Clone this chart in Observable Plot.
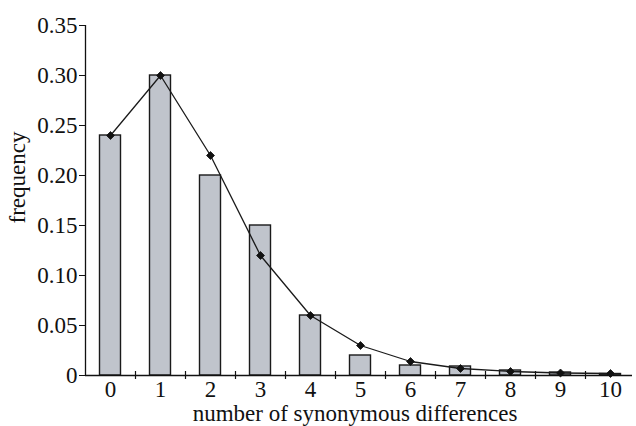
<!DOCTYPE html>
<html>
<head>
<meta charset="utf-8">
<script src="https://cdn.jsdelivr.net/npm/d3@7"></script>
<script src="https://cdn.jsdelivr.net/npm/@observablehq/plot@0.6"></script>
<style>
  html, body { margin: 0; padding: 0; background: #fff; }
  #chart svg { display: block; }
</style>
</head>
<body>
<div id="chart"></div>
<script>
const categories = [0, 1, 2, 3, 4, 5, 6, 7, 8, 9, 10];
const observed = [0.24, 0.30, 0.20, 0.15, 0.06, 0.02, 0.010, 0.009, 0.005, 0.003, 0.0015];
const expected = [0.24, 0.30, 0.22, 0.12, 0.06, 0.03, 0.014, 0.007, 0.004, 0.0025, 0.002];
const yTicks = [0, 0.05, 0.10, 0.15, 0.20, 0.25, 0.30, 0.35];
const xLabel = "number of synonymous differences";
const yLabel = "frequency";

const data = categories.map((k, i) => ({k, observed: observed[i], expected: expected[i]}));
const halfW = 0.21;
const boundaries = categories.map(k => k + 0.5).filter(v => v < 10);

const font = "'Liberation Serif', 'Times New Roman', serif";

const chart = Plot.plot({
  width: 636,
  height: 426,
  marginLeft: 85,
  marginRight: 4,
  marginTop: 25,
  marginBottom: 51,
  style: {fontFamily: font, fontSize: "23px", color: "#111", background: "#fff"},
  x: {domain: [-0.5, 10.44]},
  y: {domain: [0, 0.35]},
  marks: [
    Plot.rectY(data, {
      x1: d => d.k - halfW, x2: d => d.k + halfW, y1: 0, y2: "observed",
      fill: "#c0c4cc", stroke: "#1a1a1a", strokeWidth: 1.4
    }),
    Plot.ruleY([0], {stroke: "#111", strokeWidth: 1.3}),
    Plot.ruleX([-0.5], {stroke: "#111", strokeWidth: 1.3}),
    Plot.ruleX(boundaries, {x: d => d, y1: 0, y2: 0, insetTop: -4, insetBottom: -4, stroke: "#111", strokeWidth: 1.2}),
    Plot.line(data, {x: "k", y: "expected", stroke: "#1a1a1a", strokeWidth: 1.3}),
    Plot.dot(data, {x: "k", y: "expected", symbol: "diamond2", r: 3.6, fill: "#111", stroke: "#111", strokeWidth: 0.8}),
    Plot.axisY({
      ticks: yTicks, tickSize: 6, tickPadding: 2,
      tickFormat: d => d === 0 ? "0" : d.toFixed(2),
      label: null, fontSize: 23
    }),
    Plot.axisX({
      ticks: categories, tickSize: 0, tickPadding: 5, tickFormat: d => String(d),
      label: null, fontSize: 23
    }),
    Plot.text([yLabel], {
      frameAnchor: "left", rotate: -90, dx: -68, dy: -23,
      fontSize: 23, fill: "#111", textAnchor: "middle"
    }),
    Plot.text([xLabel], {
      frameAnchor: "bottom", dy: 45, dx: -4,
      fontSize: 23, fill: "#111", textAnchor: "middle"
    })
  ]
});
document.getElementById("chart").append(chart);
</script>
</body>
</html>
